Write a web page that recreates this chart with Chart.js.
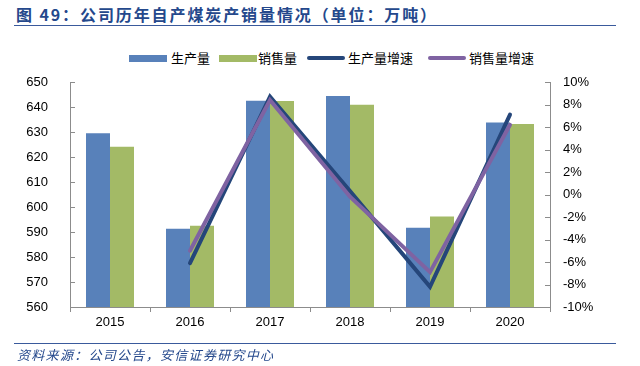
<!DOCTYPE html>
<html>
<head>
<meta charset="utf-8">
<script src="https://cdn.jsdelivr.net/npm/chart.js@4/dist/chart.umd.min.js"></script>
<style>
  html, body { margin: 0; padding: 0; background: #fff; }
  #wrap { position: relative; width: 640px; height: 366px; overflow: hidden; }
  #chart { position: absolute; left: 0; top: 0; }
  .title { position: absolute; left: 16px; top: 2px; font: bold 16px "Noto Sans CJK SC", sans-serif; letter-spacing: 1.9px; color: #24488c; white-space: nowrap; }
  .rule { position: absolute; left: 14px; width: 602px; height: 0; border-top: 1.5px solid #3a5a9c; }
  .source { position: absolute; left: 17px; top: 345px; font: italic 13px "Noto Sans CJK SC", sans-serif; letter-spacing: 1.3px; color: #24488c; white-space: nowrap; }
  .lg { position: absolute; top: 50px; font: 13px "Noto Sans CJK SC", sans-serif; color: #000; white-space: nowrap; line-height: 16px; }
  .sw { position: absolute; }
</style>
</head>
<body>
<div id="wrap">
  <div class="title">图 49：公司历年自产煤炭产销量情况（单位：万吨）</div>
  <div class="rule" style="top:25px"></div>
  <div id="legend"></div>
  <canvas id="chart" width="640" height="366"></canvas>
  <div class="rule" style="top:343px"></div>
  <div class="source">资料来源：公司公告，安信证券研究中心</div>
</div>
<script>
// data
const years = ['2015', '2016', '2017', '2018', '2019', '2020'];
const output = [629.5, 591.3, 642.5, 644.4, 591.7, 633.8];     // 生产量 (万吨)
const sales = [624.1, 592.5, 642.4, 640.9, 596.2, 633.2];      // 销售量 (万吨)
const outputGrowth = [null, -6.1, 8.7, 0.3, -8.2, 7.1];        // 生产量增速 (%)
const salesGrowth = [null, -5.0, 8.4, -0.2, -6.9, 6.2];        // 销售量增速 (%)

const colors = { output: '#5881ba', sales: '#a3ba66', outGr: '#25467a', salesGr: '#7f63a2' };
const axisColor = '#8c8c8c';
const numFont = { family: '"Liberation Sans", Arial, sans-serif', size: 13 };

// legend (HTML, positioned to match the reference)
const legendItems = [
  { label: '生产量', color: colors.output, kind: 'box', x: 129, tx: 171 },
  { label: '销售量', color: colors.sales, kind: 'box', x: 219, tx: 258 },
  { label: '生产量增速', color: colors.outGr, kind: 'line', x: 307, tx: 348 },
  { label: '销售量增速', color: colors.salesGr, kind: 'line', x: 428, tx: 469 },
];
document.getElementById('legend').innerHTML = legendItems.map(it => {
  const sw = it.kind === 'box'
    ? `<div class="sw" style="left:${it.x}px;top:55px;width:38px;height:7px;background:${it.color}"></div>`
    : `<div class="sw" style="left:${it.x}px;top:56px;width:38px;height:4px;border-radius:2px;background:${it.color}"></div>`;
  return sw + `<div class="lg" style="left:${it.tx}px">${it.label}</div>`;
}).join('');

// small inward tick marks on both value axes
const innerTicks = {
  id: 'innerTicks',
  afterDraw(chart) {
    const ctx = chart.ctx;
    ctx.save();
    ctx.strokeStyle = axisColor;
    ctx.lineWidth = 1;
    ['y', 'y1'].forEach(id => {
      const s = chart.scales[id];
      const x0 = id === 'y' ? s.right : s.left;
      const dir = id === 'y' ? 1 : -1;
      s.ticks.forEach(t => {
        const y = Math.round(s.getPixelForValue(t.value)) + 0.5;
        ctx.beginPath();
        ctx.moveTo(x0, y);
        ctx.lineTo(x0 + dir * 5, y);
        ctx.stroke();
      });
    });
    ctx.restore();
  }
};

new Chart(document.getElementById('chart'), {
  data: {
    labels: years,
    datasets: [
      { type: 'bar', label: '生产量', data: output, backgroundColor: colors.output, yAxisID: 'y', order: 2,
        categoryPercentage: 0.6, barPercentage: 1.0 },
      { type: 'bar', label: '销售量', data: sales, backgroundColor: colors.sales, yAxisID: 'y', order: 2,
        categoryPercentage: 0.6, barPercentage: 1.0 },
      { type: 'line', label: '生产量增速', data: outputGrowth, borderColor: colors.outGr, borderWidth: 4,
        pointRadius: 0, tension: 0, borderCapStyle: 'round', yAxisID: 'y1', order: 1 },
      { type: 'line', label: '销售量增速', data: salesGrowth, borderColor: colors.salesGr, borderWidth: 4,
        pointRadius: 0, tension: 0, borderCapStyle: 'round', yAxisID: 'y1', order: 0 },
    ]
  },
  options: {
    responsive: false,
    animation: false,
    layout: { padding: { top: 82, left: 0, right: 0, bottom: 0 } },
    plugins: { legend: { display: false }, tooltip: { enabled: false } },
    scales: {
      x: {
        offset: true,
        grid: { display: true, drawOnChartArea: false, drawTicks: true, tickLength: 5, offset: true, color: axisColor },
        border: { display: true, color: axisColor },
        ticks: { color: '#000', font: numFont, padding: 3 },
        afterFit(s) { s.height = 59; }
      },
      y: {
        position: 'left', min: 560, max: 650,
        grid: { display: false, drawTicks: false },
        border: { display: true, color: axisColor },
        ticks: { stepSize: 10, color: '#000', font: numFont, padding: 22 },
        afterFit(s) { s.width = 70; }
      },
      y1: {
        position: 'right', min: -10, max: 10,
        grid: { display: false, drawTicks: false },
        border: { display: true, color: axisColor },
        ticks: { stepSize: 2, color: '#000', font: numFont, padding: 13, callback: v => v + '%' },
        afterFit(s) { s.width = 90; }
      }
    }
  },
  plugins: [innerTicks]
});
</script>
</body>
</html>
